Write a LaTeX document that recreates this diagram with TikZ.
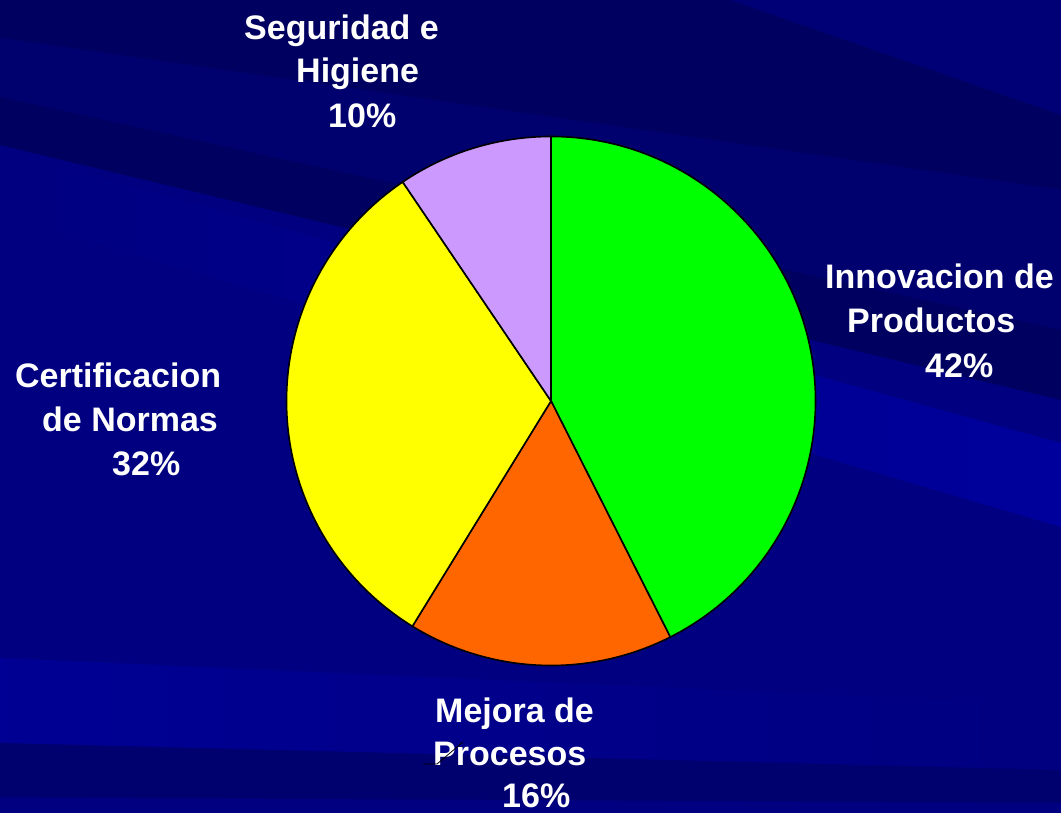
\documentclass[tikz,border=0pt]{standalone}
\usepackage{fontspec}
\setmainfont{Liberation Sans}
\definecolor{bgbase}{RGB}{0,0,128}
\definecolor{bgdark}{RGB}{0,0,96}
\definecolor{bgdarkb}{RGB}{0,0,110}
\definecolor{bgmid}{RGB}{0,0,118}
\definecolor{bglight}{RGB}{0,0,156}
\definecolor{pgreen}{RGB}{0,255,0}
\definecolor{porange}{RGB}{255,102,0}
\definecolor{pyellow}{RGB}{255,255,0}
\definecolor{plilac}{RGB}{204,153,255}
\begin{document}
\begin{tikzpicture}[x=1pt,y=-1pt,
  lbl/.style={anchor=base west, inner sep=0pt, text=white, font=\fontsize{34}{44}\selectfont\bfseries},
  slice/.style={draw=black, line width=1.6pt, line join=round},
  leader/.style={draw=black, line width=0.8pt}]
\useasboundingbox (0,0) rectangle (1061,813);
% background
\fill[bgbase] (0,0) rectangle (1061,813);
\fill[bgdark] (0,0) -- (1061,0) -- (1061,190) -- (0,38) -- cycle;
\fill[bgmid] (730,0) -- (1061,0) -- (1061,115) -- cycle;
\fill[bgdarkb] (0,38) -- (1061,190) -- (1061,330) -- (0,97) -- cycle;
\fill[bgdark] (0,97) -- (1061,330) -- (1061,400) -- (0,145) -- cycle;
\shade[left color=bgbase, right color=bglight] (0,150) -- (1061,443) -- (1061,527) -- (0,215) -- cycle;
\shade[left color=bglight!70!bgbase, right color=bgbase] (0,658) -- (1061,705) -- (1061,770) -- (0,743) -- cycle;
\fill[bgdarkb] (0,743) -- (1061,770) -- (1061,803) -- (0,797) -- cycle;
% pie
\coordinate (c) at (551,401);
\filldraw[slice, fill=pgreen] (c) -- ++(-90:264.5) arc[start angle=-90, end angle=63.2, radius=264.5] -- cycle;
\filldraw[slice, fill=porange] (c) -- ++(63.2:264.5) arc[start angle=63.2, end angle=121.6, radius=264.5] -- cycle;
\filldraw[slice, fill=pyellow] (c) -- ++(121.6:264.5) arc[start angle=121.6, end angle=235.9, radius=264.5] -- cycle;
\filldraw[slice, fill=plilac] (c) -- ++(235.9:264.5) arc[start angle=235.9, end angle=270, radius=264.5] -- cycle;
% labels
\node[lbl] (sg1) at (244,40) {Seguridad e};
\node[lbl] (sg2) at (296,83) {Higiene};
\node[lbl] (sg3) at (328,128) {10\%};
\node[lbl] (ce1) at (15,387) {Certificacion};
\node[lbl] (ce2) at (42,431) {de Normas};
\node[lbl] (ce3) at (112,475) {32\%};
\node[lbl] (in1) at (825,289) {Innovacion de};
\node[lbl] (in2) at (847,333) {Productos};
\node[lbl] (in3) at (925,377) {42\%};
\node[lbl] (me1) at (435,722) {Mejora de};
\node[lbl] (me2) at (433,765) {Procesos};
\node[lbl] (me3) at (502,807) {16\%};
% small leader line
\coordinate (ldA) at (423,764);
\coordinate (ldB) at (437,764);
\coordinate (ldC) at (463,742);
\draw[leader] (ldA) -- (ldB) -- (ldC);
\end{tikzpicture}
\end{document}
